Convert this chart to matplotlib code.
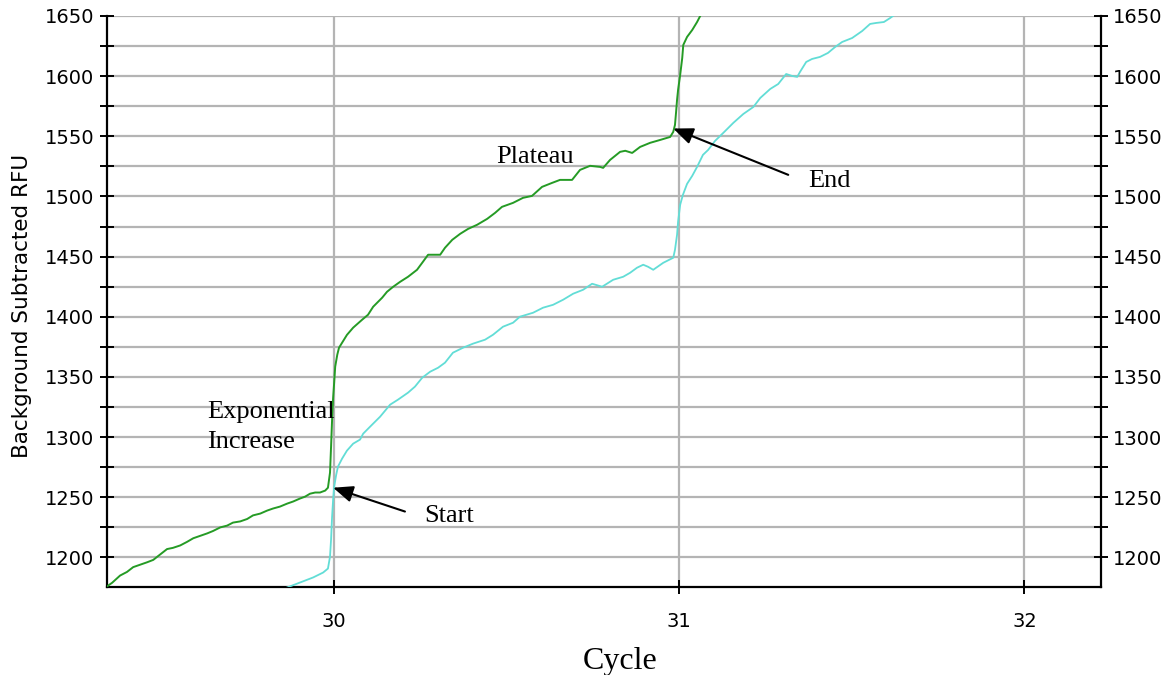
import matplotlib
matplotlib.use("Agg")
import matplotlib.pyplot as plt
from matplotlib.ticker import MultipleLocator

# Amplification traces (cycle, background-subtracted RFU)
green_cycle = [29.343, 29.358, 29.381, 29.401, 29.419, 29.439, 29.459, 29.477, 29.497, 29.517,
               29.534, 29.555, 29.575, 29.593, 29.613, 29.633, 29.650, 29.671, 29.691, 29.708,
               29.729, 29.749, 29.766, 29.787, 29.807, 29.824, 29.844, 29.865, 29.882, 29.902,
               29.917, 29.931, 29.946, 29.960, 29.975, 29.983, 29.989, 29.992, 29.995, 29.998,
               30.001, 30.004, 30.010, 30.015, 30.024, 30.038, 30.056, 30.082, 30.099, 30.114,
               30.140, 30.154, 30.172, 30.192, 30.215, 30.241, 30.258, 30.273, 30.308, 30.322,
               30.343, 30.366, 30.389, 30.415, 30.444, 30.467, 30.487, 30.519, 30.548, 30.574,
               30.603, 30.632, 30.655, 30.690, 30.713, 30.742, 30.771, 30.780, 30.800, 30.829,
               30.844, 30.864, 30.887, 30.916, 30.945, 30.974, 30.983, 30.988, 30.991, 30.994,
               30.997, 31.003, 31.009, 31.012, 31.023, 31.038, 31.052, 31.061, 31.070]
green_rfu = [1176, 1179, 1185, 1188, 1192, 1194, 1196, 1198, 1202.5, 1207,
             1208, 1210, 1213, 1216, 1218, 1220, 1222, 1225, 1226.5, 1229,
             1230, 1232, 1235, 1236.5, 1239, 1240.7, 1242.3, 1244.8, 1246.5, 1249,
             1250.6, 1253, 1254, 1254, 1255.6, 1258, 1270.6, 1292, 1314.6, 1332.8,
             1345.3, 1358.6, 1368.5, 1374.3, 1378.5, 1385, 1391, 1397.6, 1401.7, 1408.4,
             1415.9, 1420.8, 1425, 1429.1, 1433.3, 1439.1, 1445.7, 1451.6, 1451.6, 1457.4,
             1464, 1469, 1473.1, 1476.5, 1481.4, 1486.4, 1491.4, 1494.7, 1498.9, 1500.5,
             1508, 1511.3, 1513.8, 1513.8, 1522.1, 1525.5, 1524.6, 1523.8, 1530.4, 1537.1,
             1538, 1536.2, 1541.2, 1544.6, 1547, 1549.5, 1553.7, 1559.5, 1569.5, 1580.3,
             1588.6, 1601, 1615.1, 1625.9, 1632.6, 1638.4, 1645, 1650, 1655]

cyan_cycle = [29.865, 29.902, 29.940, 29.969, 29.983, 29.989, 29.992, 29.995, 29.998, 30.001,
              30.007, 30.012, 30.024, 30.038, 30.056, 30.076, 30.085, 30.105, 30.134, 30.163,
              30.186, 30.215, 30.235, 30.256, 30.279, 30.302, 30.322, 30.345, 30.374, 30.403,
              30.438, 30.461, 30.490, 30.519, 30.539, 30.577, 30.606, 30.635, 30.664, 30.693,
              30.722, 30.748, 30.777, 30.809, 30.838, 30.858, 30.878, 30.896, 30.910, 30.925,
              30.954, 30.983, 30.988, 30.994, 30.997, 31.003, 31.011, 31.023, 31.038, 31.052,
              31.069, 31.084, 31.104, 31.128, 31.157, 31.186, 31.215, 31.235, 31.264, 31.287,
              31.310, 31.327, 31.342, 31.350, 31.368, 31.385, 31.408, 31.431, 31.452, 31.472,
              31.501, 31.530, 31.553, 31.570, 31.593, 31.611, 31.623]
cyan_rfu = [1175.1, 1179.2, 1183.4, 1187.5, 1190.8, 1200.8, 1214.9, 1234, 1248.1, 1258.9,
            1268.9, 1275.5, 1282.2, 1288.8, 1294.6, 1298, 1302.9, 1308.7, 1317, 1327,
            1331.2, 1337, 1342, 1349.4, 1354.4, 1357.7, 1361.9, 1370.2, 1374.3, 1377.7,
            1381, 1385.1, 1391.8, 1395.1, 1400.1, 1403.4, 1407.6, 1410, 1414.2, 1419.2,
            1422.5, 1427.5, 1425, 1430.8, 1433.3, 1436.6, 1440.8, 1443.3, 1441.6, 1439.1,
            1444.9, 1449.1, 1455.7, 1468.2, 1479, 1493.1, 1501.4, 1510.5, 1517.2, 1524.6,
            1534.6, 1538.7, 1546.2, 1552.9, 1561.2, 1568.6, 1574.4, 1581.9, 1589.4, 1593.5,
            1601.8, 1600.2, 1599.4, 1603.5, 1611.8, 1614.3, 1616, 1619.3, 1624.3, 1628.4,
            1631.7, 1637.5, 1643.4, 1644.2, 1645, 1648.3, 1650.8]

x_ticks = [30, 31, 32]
y_label = "Background Subtracted RFU"
x_label = "Cycle"

fig = plt.figure(figsize=(11.74, 6.75), dpi=100)
ax = fig.add_axes([0.0911, 0.1304, 0.8465, 0.8459])
ax.set_xlim(29.343, 32.221)
ax.set_ylim(1175.5, 1650)

grid_color = "#b4b4b4"
ax.set_axisbelow(True)
ax.xaxis.set_major_locator(MultipleLocator(1))
ax.yaxis.set_major_locator(MultipleLocator(50))
ax.yaxis.set_minor_locator(MultipleLocator(25))
ax.grid(True, axis="y", which="both", color=grid_color, lw=1.6)
ax.grid(True, axis="x", which="major", color=grid_color, lw=1.6)
ax.set_xticks(x_ticks)

ax.plot(green_cycle, green_rfu, color="#259b25", lw=1.4, zorder=3)
ax.plot(cyan_cycle, cyan_rfu, color="#62ddd6", lw=1.3, zorder=3)

for side in ("left", "right", "bottom"):
    ax.spines[side].set_linewidth(1.6)
    ax.spines[side].set_color("black")
ax.spines["top"].set_visible(False)

ax.tick_params(axis="y", which="both", direction="inout", length=10, width=1.4,
               left=True, right=True, labelleft=True, labelright=True,
               labelsize=14, pad=4)
ax.tick_params(axis="x", which="major", direction="inout", length=10, width=1.4,
               labelsize=14, pad=13)

serif = "Liberation Serif"
ax.text(29.633, 1316.2, "Exponential", fontsize=19, family=serif, va="baseline", ha="left")
ax.text(29.633, 1291.3, "Increase", fontsize=19, family=serif, va="baseline", ha="left")
ax.text(30.470, 1527.9, "Plateau", fontsize=19, family=serif, va="baseline", ha="left")
ax.text(31.374, 1508.0, "End", fontsize=19, family=serif, va="baseline", ha="left")
ax.text(30.262, 1229.9, "Start", fontsize=19, family=serif, va="baseline", ha="left")

arrow = dict(arrowstyle="-|>,head_length=0.6,head_width=0.25", mutation_scale=20,
             lw=1.5, color="black", shrinkA=0, shrinkB=0)
ax.annotate("", xy=(29.998, 1258.0), xytext=(30.206, 1238.2), arrowprops=arrow, zorder=5)
ax.annotate("", xy=(30.983, 1556.5), xytext=(31.316, 1518.0), arrowprops=arrow, zorder=5)

fig.text(22 / 1174, 1 - 306 / 675, y_label, rotation=90, fontsize=15.5,
         ha="center", va="center")
fig.text(620 / 1174, 1 - 669 / 675, x_label, fontsize=23, family=serif,
         ha="center", va="baseline")

fig.savefig("out.png", dpi=100)
